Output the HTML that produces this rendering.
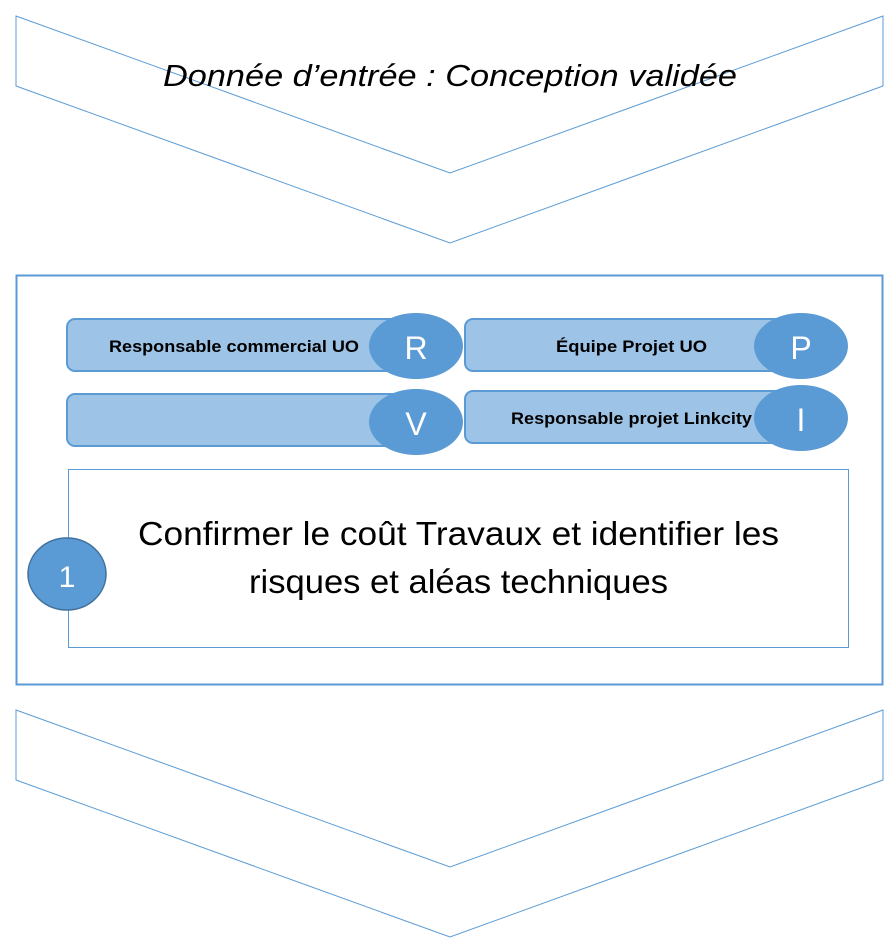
<!DOCTYPE html>
<html><head><meta charset="utf-8"><style>body{margin:0;background:#fff}svg{display:block}</style></head><body>
<svg width="895" height="947" viewBox="0 0 895 947" xmlns="http://www.w3.org/2000/svg" font-family="'Liberation Sans', sans-serif">
<polygon points="16,16 450,173 883,16 883,86 450,243 16,86" fill="#fff" stroke="#5b9bd5" stroke-width="1"/>
<text x="163" y="86" font-size="31" font-style="italic" fill="#000" textLength="574" lengthAdjust="spacingAndGlyphs">Donnée d’entrée : Conception validée</text>
<rect x="16.5" y="275.5" width="866" height="409" fill="#fff" stroke="#5b9bd5" stroke-width="2"/>
<rect x="67" y="319" width="360" height="52" rx="8" fill="#9dc3e6" stroke="#5b9bd5" stroke-width="2"/>
<text x="109" y="352" font-size="17" font-weight="bold" textLength="250" lengthAdjust="spacingAndGlyphs">Responsable commercial UO</text>
<ellipse cx="416" cy="346" rx="47" ry="33" fill="#5b9bd5"/>
<text x="416" y="359" text-anchor="middle" font-size="32" fill="#fff">R</text>
<rect x="67" y="394" width="360" height="52" rx="8" fill="#9dc3e6" stroke="#5b9bd5" stroke-width="2"/>
<ellipse cx="416" cy="422" rx="47" ry="33" fill="#5b9bd5"/>
<text x="416" y="435" text-anchor="middle" font-size="32" fill="#fff">V</text>
<rect x="465" y="319" width="350" height="52" rx="8" fill="#9dc3e6" stroke="#5b9bd5" stroke-width="2"/>
<text x="556" y="352" font-size="17" font-weight="bold" textLength="151" lengthAdjust="spacingAndGlyphs">Équipe Projet UO</text>
<ellipse cx="801" cy="346" rx="47" ry="33" fill="#5b9bd5"/>
<text x="801" y="359" text-anchor="middle" font-size="32" fill="#fff">P</text>
<rect x="465" y="391" width="350" height="52" rx="8" fill="#9dc3e6" stroke="#5b9bd5" stroke-width="2"/>
<text x="511" y="424" font-size="17" font-weight="bold" textLength="241" lengthAdjust="spacingAndGlyphs">Responsable projet Linkcity</text>
<ellipse cx="801" cy="418" rx="47" ry="33" fill="#5b9bd5"/>
<text x="801" y="431" text-anchor="middle" font-size="32" fill="#fff">I</text>
<rect x="68.5" y="469.5" width="780" height="178" fill="#fff" stroke="#5b9bd5" stroke-width="1"/>
<text x="138" y="545" font-size="33" textLength="641" lengthAdjust="spacingAndGlyphs">Confirmer le coût Travaux et identifier les</text>
<text x="249" y="593" font-size="33" textLength="419" lengthAdjust="spacingAndGlyphs">risques et aléas techniques</text>
<ellipse cx="67" cy="574" rx="39" ry="36" fill="#5b9bd5" stroke="#41719c" stroke-width="1.5"/>
<text x="67" y="587" text-anchor="middle" font-size="30" fill="#fff">1</text>
<polygon points="16,710 450,867 883,710 883,780 450,937 16,780" fill="#fff" stroke="#5b9bd5" stroke-width="1"/>
</svg>
</body></html>
